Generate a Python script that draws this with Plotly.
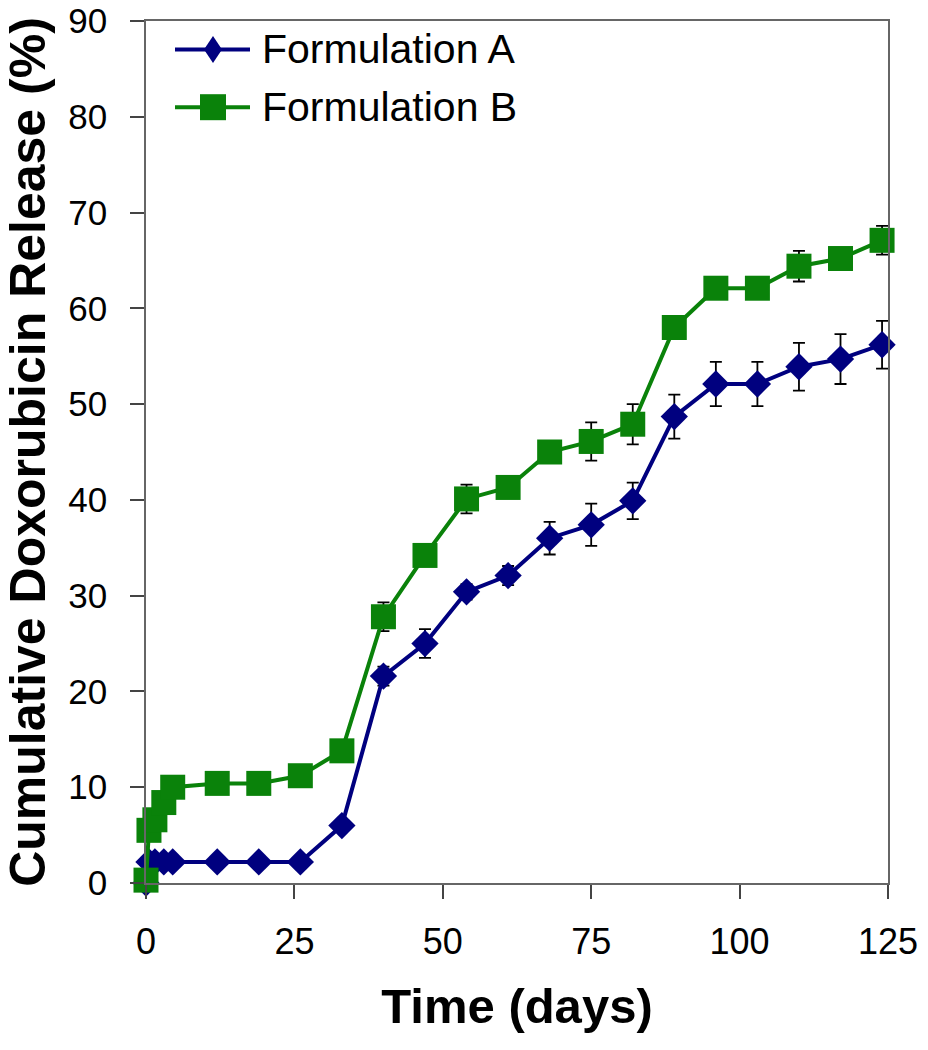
import plotly.graph_objects as go

days = [0, 0.5, 1.5, 3, 4.5, 12, 19, 26, 33, 40, 47, 54, 61, 68, 75, 82, 89, 96, 103, 110, 117, 124]
form_a = [0, 2.2, 2.2, 2.2, 2.2, 2.2, 2.2, 2.2, 6.0, 21.6, 25.0, 30.4, 32.1, 36.0, 37.4, 39.9, 48.7, 52.1, 52.1, 53.9, 54.7, 56.2]
err_a = [0, 0.2, 0.2, 0.2, 0.2, 0.2, 0.2, 0.2, 0.5, 1.0, 1.5, 0.8, 1.0, 1.7, 2.2, 1.9, 2.3, 2.3, 2.3, 2.5, 2.6, 2.5]
form_b = [0.3, 5.5, 6.6, 8.4, 10.0, 10.4, 10.4, 11.2, 13.8, 27.8, 34.2, 40.1, 41.3, 45.0, 46.1, 47.9, 58.0, 62.1, 62.1, 64.4, 65.2, 67.1]
err_b = [0, 0.3, 0.3, 0.3, 0.3, 0.3, 0.3, 0.3, 0.5, 1.5, 0.8, 1.5, 0.8, 1.0, 2.0, 2.1, 1.0, 1.0, 0.8, 1.6, 1.0, 1.5]

series_names = ["Formulation A", "Formulation B"]
x_ticks = [0, 25, 50, 75, 100, 125]
y_ticks = [0, 10, 20, 30, 40, 50, 60, 70, 80, 90]

NAVY = "#00007F"
GREEN = "#0A820A"
FONT = "Liberation Sans, Arial, sans-serif"

fig = go.Figure()
fig.add_trace(go.Scatter(
    x=days, y=form_a, name=series_names[0], mode="lines+markers",
    line=dict(color=NAVY, width=4),
    marker=dict(symbol="diamond", size=21, color=NAVY),
    error_y=dict(type="data", array=err_a, visible=True, color="black", thickness=1.8, width=6),
    cliponaxis=False, showlegend=False,
))
fig.add_trace(go.Scatter(
    x=days, y=form_b, name=series_names[1], mode="lines+markers",
    line=dict(color=GREEN, width=4),
    marker=dict(symbol="square", size=25, color=GREEN),
    error_y=dict(type="data", array=err_b, visible=True, color="black", thickness=1.8, width=6),
    cliponaxis=False, showlegend=False,
))

# Legend drawn as pixel-sized shapes + text (long line samples like the original)
legend_rows = [
    (series_names[0], NAVY, "M0,13.5 L9,0 L0,-13.5 L-9,0 Z", 0.967),
    (series_names[1], GREEN, "M-13,-13 L13,-13 L13,13 L-13,13 Z", 0.900),
]
shapes = []
annotations = []
for name, color, sym, ypos in legend_rows:
    shapes.append(dict(type="path", xref="paper", yref="paper", xsizemode="pixel", ysizemode="pixel",
                       xanchor=0.0903, yanchor=ypos, path="M-38,0 L37,0",
                       line=dict(color=color, width=4)))
    shapes.append(dict(type="path", xref="paper", yref="paper", xsizemode="pixel", ysizemode="pixel",
                       xanchor=0.0903, yanchor=ypos, path=sym,
                       line=dict(color=color, width=0), fillcolor=color))
    annotations.append(dict(text=name, xref="paper", yref="paper", x=0.1536, y=ypos,
                            xanchor="left", yanchor="middle", showarrow=False,
                            font=dict(size=41, family=FONT, color="black")))

fig.update_layout(
    width=928, height=1050,
    margin=dict(l=146, r=40, t=21, b=167, autoexpand=False),
    paper_bgcolor="white", plot_bgcolor="white",
    font=dict(family=FONT, color="black"),
    showlegend=False,
    shapes=shapes, annotations=annotations,
)
fig.update_xaxes(
    range=[0, 125], tickvals=x_ticks, ticktext=[str(v) for v in x_ticks],
    showgrid=False, zeroline=False, automargin=False,
    showline=True, linecolor="#666666", linewidth=1.5, mirror=True,
    ticks="outside", ticklen=14, tickcolor="#444444", tickwidth=1.5,
    tickfont=dict(size=36, family=FONT), ticklabelstandoff=12,
    title=dict(text="<b>Time (days)</b>", font=dict(size=49, family=FONT), standoff=28),
)
fig.update_yaxes(
    range=[0, 90], tickvals=y_ticks, ticktext=[str(v) for v in y_ticks],
    showgrid=False, zeroline=False, automargin=False,
    showline=True, linecolor="#666666", linewidth=1.5, mirror=True,
    ticks="outside", ticklen=14, tickcolor="#444444", tickwidth=1.5,
    tickfont=dict(size=35, family=FONT), ticklabelstandoff=16, ticklabeloverflow="allow",
    title=dict(text="<b>Cumulative Doxorubicin Release (%)</b>", font=dict(size=50, family=FONT), standoff=14),
)

fig.write_html("out.html", config={"displayModeBar": False},
               post_script="document.body.style.margin='0';")
